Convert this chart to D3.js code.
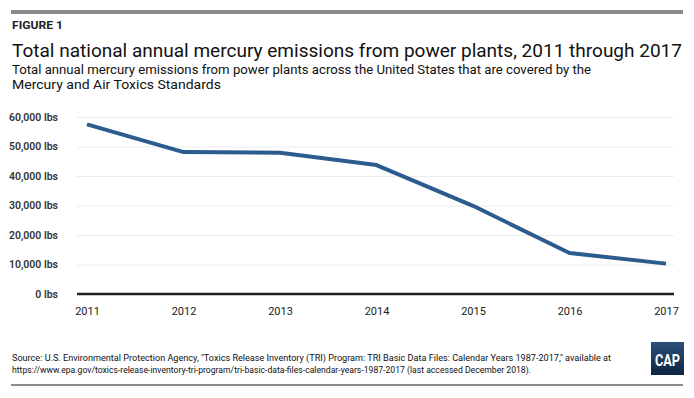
<!DOCTYPE html>
<html><head><meta charset="utf-8">
<script src="https://cdn.jsdelivr.net/npm/d3@7"></script>
<style>
html,body{margin:0;padding:0;background:#fff;}
svg text{font-family:"Liberation Sans Narrow","Roboto","Liberation Sans",sans-serif;font-weight:400;}
</style></head>
<body><svg id="chart" width="694" height="398"></svg>
<script>
const years = [2011, 2012, 2013, 2014, 2015, 2016, 2017];
const emissions = [57500, 48100, 47900, 43700, 29900, 13900, 10300];
const yTicks = [0, 10000, 20000, 30000, 40000, 50000, 60000];
const titleText = "Total national annual mercury emissions from power plants, 2011 through 2017";
const subtitleLines = ["Total annual mercury emissions from power plants across the United States that are covered by the", "Mercury and Air Toxics Standards"];
const sourceLines = ["Source: U.S. Environmental Protection Agency, \"Toxics Release Inventory (TRI) Program: TRI Basic Data Files: Calendar Years 1987-2017,\" available at", "https://www.epa.gov/toxics-release-inventory-tri-program/tri-basic-data-files-calendar-years-1987-2017 (last accessed December 2018)."];

(function () {
const svg = d3.select("#chart");
const W = 694, H = 398;
svg.append("rect").attr("width", W).attr("height", H).attr("fill", "#fff");

svg.append("rect").attr("x", 11).attr("y", 10).attr("width", 672).attr("height", 4).attr("fill", "#8a8b8e");
svg.append("rect").attr("x", 11).attr("y", 384).attr("width", 672).attr("height", 2).attr("fill", "#8a8b8e");

svg.append("text").attr("x", 12).attr("y", 29).text("FIGURE 1")
  .attr("font-size", 11).style("font-weight", "bold").attr("fill", "#222")
  .attr("textLength", 51).attr("lengthAdjust", "spacingAndGlyphs");
svg.append("text").attr("x", 12).attr("y", 57).text(titleText)
  .attr("font-size", 19).attr("fill", "#111")
  .attr("textLength", 670).attr("lengthAdjust", "spacingAndGlyphs");
const subW = [579, 209];
subtitleLines.forEach((t, i) => {
  svg.append("text").attr("x", 12).attr("y", 74 + i * 15).text(t)
    .attr("font-size", 13.5).attr("fill", "#111")
    .attr("textLength", subW[i]).attr("lengthAdjust", "spacingAndGlyphs");
});

const mLeft = 77, mRight = 674, mTop = 117, mBottom = 294;
const x = d3.scalePoint().domain(years).range([87, 666]);
const y = d3.scaleLinear().domain([0, 60000]).range([mBottom, mTop]);

const yAxis = svg.append("g").attr("transform", `translate(${mLeft},0)`)
  .call(d3.axisLeft(y).tickValues(yTicks).tickSize(-(mRight - mLeft)).tickPadding(19)
    .tickFormat(d => d3.format(",")(d) + " lbs"));
yAxis.select(".domain").remove();
yAxis.selectAll(".tick line").attr("stroke", "#ececec").attr("stroke-width", 1);
yAxis.selectAll(".tick text").attr("font-size", 10.5).style("font-weight", "600").attr("fill", "#333")
  .attr("font-family", "'Liberation Sans Narrow','Roboto','Liberation Sans',sans-serif");

const xAxis = svg.append("g").attr("transform", `translate(0,${mBottom})`)
  .call(d3.axisBottom(x).tickSize(0).tickPadding(13).tickFormat(d3.format("d")));
xAxis.select(".domain").remove();
xAxis.selectAll(".tick text").attr("font-size", 11).attr("fill", "#222")
  .attr("font-family", "'Liberation Sans Narrow','Roboto','Liberation Sans',sans-serif");
svg.append("line").attr("x1", mLeft).attr("x2", mRight).attr("y1", mBottom).attr("y2", mBottom)
  .attr("stroke", "#222").attr("stroke-width", 2.5);

const line = d3.line().x((d, i) => x(years[i])).y(d => y(d));
svg.append("path").datum(emissions).attr("d", line)
  .attr("fill", "none").attr("stroke", "#2c5b8d").attr("stroke-width", 4)
  .attr("stroke-linejoin", "round");

const srcW = [599, 519];
sourceLines.forEach((t, i) => {
  svg.append("text").attr("x", 12).attr("y", 361 + i * 12).text(t)
    .attr("font-size", 9.5).attr("fill", "#111")
    .attr("textLength", srcW[i]).attr("lengthAdjust", "spacingAndGlyphs");
});

const defs = svg.append("defs");
const g = defs.append("linearGradient").attr("id", "capg").attr("x1", 0).attr("y1", 0).attr("x2", 0).attr("y2", 1);
g.append("stop").attr("offset", "0%").attr("stop-color", "#2a5079");
g.append("stop").attr("offset", "100%").attr("stop-color", "#0f2542");
svg.append("rect").attr("x", 651).attr("y", 342).attr("width", 33).attr("height", 33).attr("fill", "url(#capg)");
svg.append("text").attr("x", 667.5).attr("y", 366).attr("text-anchor", "middle").text("CAP")
  .attr("font-size", 16).style("font-weight", "bold").attr("fill", "#fff")
  .attr("textLength", 25).attr("lengthAdjust", "spacingAndGlyphs");
})();
</script></body></html>
